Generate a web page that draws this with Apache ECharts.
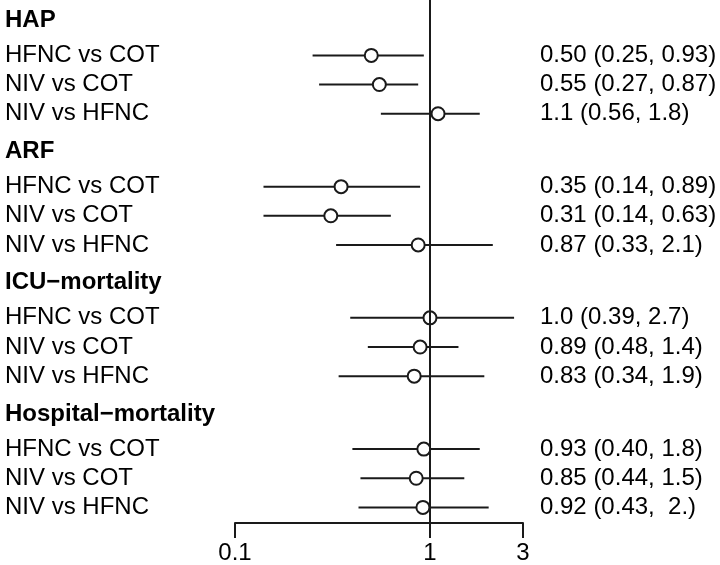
<!DOCTYPE html>
<html>
<head>
<meta charset="utf-8">
<script src="https://cdn.jsdelivr.net/npm/echarts@6/dist/echarts.min.js"></script>
<style>html,body{margin:0;padding:0;background:#fff}#c{width:720px;height:565px}</style>
</head>
<body>
<div id="c"></div>
<script>
// ---- data ----
const groups = ['HAP', 'ARF', 'ICU\u2212mortality', 'Hospital\u2212mortality'];
const comparisons = ['HFNC vs COT', 'NIV vs COT', 'NIV vs HFNC'];
const estimates = [
  [0.50, 0.55, 1.1],
  [0.35, 0.31, 0.87],
  [1.0, 0.89, 0.83],
  [0.93, 0.85, 0.92]
];
const lower = [
  [0.25, 0.27, 0.56],
  [0.14, 0.14, 0.33],
  [0.39, 0.48, 0.34],
  [0.40, 0.44, 0.43]
];
const upper = [
  [0.93, 0.87, 1.8],
  [0.89, 0.63, 2.1],
  [2.7, 1.4, 1.9],
  [1.8, 1.5, 2.0]
];
const estimateText = [
  ['0.50 (0.25, 0.93)', '0.55 (0.27, 0.87)', '1.1 (0.56, 1.8)'],
  ['0.35 (0.14, 0.89)', '0.31 (0.14, 0.63)', '0.87 (0.33, 2.1)'],
  ['1.0 (0.39, 2.7)', '0.89 (0.48, 1.4)', '0.83 (0.34, 1.9)'],
  ['0.93 (0.40, 1.8)', '0.85 (0.44, 1.5)', '0.92 (0.43,  2.)']
];
const xTicks = [0.1, 1, 3];
const xTickLabels = ['0.1', '1', '3'];

// ---- layout (row positions in row units) ----
const GROUP_STEP = 4.5, FIRST_ROW = 1.2;
const leftPos = [], leftText = [], rightPos = [], rightText = [];
const pointData = [], ciData = [];
groups.forEach((g, gi) => {
  const hp = gi * GROUP_STEP;
  leftPos.push(hp); leftText.push('{b|' + g + '}');
  comparisons.forEach((c, ri) => {
    const y = hp + FIRST_ROW + ri;
    leftPos.push(y); leftText.push(c);
    rightPos.push(y); rightText.push(estimateText[gi][ri]);
    pointData.push([estimates[gi][ri], y]);
    ciData.push([lower[gi][ri], upper[gi][ri], y]);
  });
});
function lookup(pos, txt, v) {
  let best = 0, d = Infinity;
  pos.forEach((p, i) => { const dd = Math.abs(p - v); if (dd < d) { d = dd; best = i; } });
  return txt[best];
}

const FONT = 'Liberation Sans, Arial, Helvetica, sans-serif';
const FS = 24;
const INK = '#1a1a1a';
const chart = echarts.init(document.getElementById('c'), null, {renderer: 'canvas'});
chart.setOption({
  animation: false,
  backgroundColor: '#fff',
  grid: {left: 235, right: 197, top: 0, bottom: 39.5},
  xAxis: {
    type: 'log', logBase: 10, min: 0.1, max: 3, position: 'bottom',
    splitLine: {show: false},
    axisLine: {show: true, onZero: false, lineStyle: {color: INK, width: 2}},
    axisTick: {show: true, customValues: xTicks, length: 15, lineStyle: {color: INK, width: 2}},
    axisLabel: {
      show: true, customValues: xTicks, margin: 18,
      color: '#000', fontSize: FS, fontFamily: FONT,
      formatter: v => lookup(xTicks, xTickLabels, v)
    }
  },
  yAxis: [{
    type: 'value', inverse: true, min: -0.7, max: 17.235, position: 'left',
    splitLine: {show: false}, axisLine: {show: false}, axisTick: {show: false},
    axisLabel: {
      show: true, customValues: leftPos, align: 'left', margin: 230,
      color: '#000', fontSize: FS, fontFamily: FONT,
      formatter: v => lookup(leftPos, leftText, v),
      rich: {b: {fontWeight: 'bold', fontSize: FS, fontFamily: FONT, color: '#000'}}
    }
  }, {
    type: 'value', inverse: true, min: -0.7, max: 17.235, position: 'right',
    splitLine: {show: false}, axisLine: {show: false}, axisTick: {show: false},
    axisLabel: {
      show: true, customValues: rightPos, align: 'left', margin: 17,
      color: '#000', fontSize: FS, fontFamily: FONT,
      formatter: v => lookup(rightPos, rightText, v)
    }
  }],
  series: [{
    type: 'custom',
    data: ciData,
    encode: {x: [0, 1], y: 2},
    clip: false,
    z: 2,
    renderItem: function (params, api) {
      const p1 = api.coord([api.value(0), api.value(2)]);
      const p2 = api.coord([api.value(1), api.value(2)]);
      return {type: 'line', shape: {x1: p1[0], y1: p1[1], x2: p2[0], y2: p2[1]},
              style: {stroke: INK, lineWidth: 2}};
    }
  }, {
    type: 'scatter',
    data: pointData,
    symbol: 'circle', symbolSize: 13,
    itemStyle: {color: '#fff', borderColor: INK, borderWidth: 2, opacity: 1},
    z: 4,
    markLine: {
      silent: true, symbol: 'none', label: {show: false},
      lineStyle: {color: INK, width: 2, type: 'solid'},
      data: [{xAxis: 1}]
    }
  }]
});
</script>
</body>
</html>
